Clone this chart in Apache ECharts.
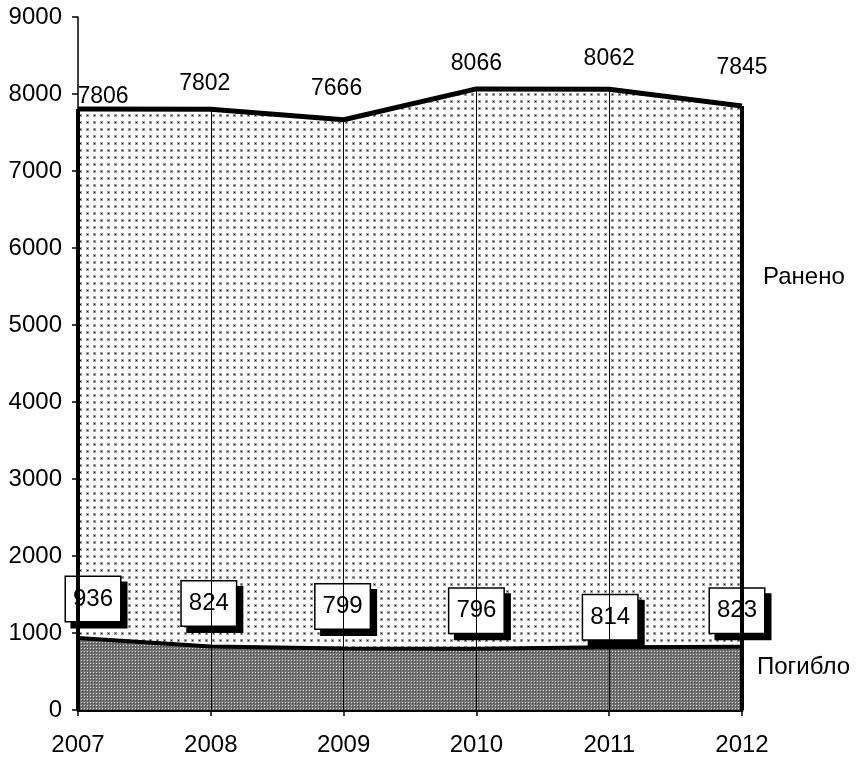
<!DOCTYPE html>
<html>
<head>
<meta charset="utf-8">
<script src="https://cdn.jsdelivr.net/npm/echarts@6/dist/echarts.min.js"></script>
<style>
html,body{margin:0;padding:0;background:#fff;}
#chart{width:858px;height:762px;}
</style>
</head>
<body>
<div id="chart"></div>
<script>
// ---- data ----
var years = ['2007', '2008', '2009', '2010', '2011', '2012'];
var seriesNames = ['Ранено', 'Погибло'];
var ranenoValues = [7806, 7802, 7666, 8066, 8062, 7845];
var pogibloValues = [936, 824, 799, 796, 814, 823];
var yTicks = [0, 1000, 2000, 3000, 4000, 5000, 6000, 7000, 8000, 9000];

// ---- patterns ----
function makePattern(w, h, draw) {
  var c = document.createElement('canvas');
  c.width = w; c.height = h;
  var ctx = c.getContext('2d');
  draw(ctx);
  return { image: c, repeat: 'repeat' };
}
var dotPattern = makePattern(7, 7, function (ctx) {
  ctx.fillStyle = '#ffffff'; ctx.fillRect(0, 0, 7, 7);
  ctx.fillStyle = '#a0a0a0'; ctx.fillRect(2, 2, 3, 3);
  ctx.fillStyle = '#202020'; ctx.fillRect(3, 3, 1, 1);
});
var densePattern = makePattern(3, 3, function (ctx) {
  ctx.fillStyle = '#727272'; ctx.fillRect(0, 0, 3, 3);
  ctx.fillStyle = '#dcdcdc'; ctx.fillRect(0, 0, 1, 1);
  ctx.fillStyle = '#4a4a4a'; ctx.fillRect(1, 1, 1, 1);
});

var FONT = 'Liberation Sans, Arial, sans-serif';

// per-label nudges (style only)
var upperOffsets = [[25, 5], [-6, -8], [-7, -14], [0, -8], [0, -13], [0, -21]];
var lowerOffsets = [[15, -11], [-2, -15], [-1, -14], [0, -10], [1, -2], [-5, -8]];

var upperData = ranenoValues.map(function (v, i) {
  return { value: v, label: { offset: upperOffsets[i] } };
});
var lowerData = pogibloValues.map(function (v, i) {
  return { value: v, label: { offset: lowerOffsets[i] } };
});

var dropLines = years.map(function (y, i) {
  var edge = (i === 0 || i === years.length - 1);
  return [
    { coord: [y, 0], lineStyle: { width: edge ? 4 : 1, color: '#000', type: 'solid' } },
    { coord: [y, ranenoValues[i]] }
  ];
});

var chart = echarts.init(document.getElementById('chart'));
chart.setOption({
  animation: false,
  backgroundColor: '#fff',
  grid: { left: 78, right: 116, top: 17, bottom: 52, containLabel: false },
  xAxis: {
    type: 'category',
    data: years,
    boundaryGap: false,
    axisLine: { lineStyle: { color: '#000', width: 3 } },
    axisTick: { show: true, length: 6, lineStyle: { color: '#000', width: 1.5 } },
    axisLabel: { color: '#000', fontSize: 24, fontFamily: FONT, margin: 23 },
    splitLine: { show: false }
  },
  yAxis: {
    type: 'value',
    min: yTicks[0],
    max: yTicks[yTicks.length - 1],
    interval: yTicks[1] - yTicks[0],
    axisLine: { show: true, lineStyle: { color: '#000', width: 1.5 } },
    axisTick: { show: true, length: 6, lineStyle: { color: '#000', width: 1.5 } },
    axisLabel: { color: '#000', fontSize: 24, fontFamily: FONT, margin: 16,
      formatter: function (v) { return String(v); } },
    splitLine: { show: false }
  },
  series: [
    {
      name: seriesNames[0],
      type: 'line',
      data: upperData,
      symbol: 'circle',
      symbolSize: 2,
      showSymbol: true,
      itemStyle: { color: 'transparent' },
      z: 2,
      lineStyle: { color: '#000', width: 5 },
      areaStyle: { color: dotPattern, opacity: 1 },
      label: {
        show: true, position: 'top', distance: 5,
        color: '#000', fontSize: 23, fontFamily: FONT
      }
    },
    {
      name: seriesNames[1],
      type: 'line',
      data: lowerData,
      symbol: 'circle',
      symbolSize: 2,
      showSymbol: true,
      itemStyle: { color: 'transparent' },
      z: 3,
      lineStyle: { color: '#000', width: 4 },
      areaStyle: { color: densePattern, opacity: 1 },
      label: {
        show: true, position: 'top', distance: 5,
        color: '#000', fontSize: 24, fontFamily: FONT,
        backgroundColor: '#fff', borderColor: '#000', borderWidth: 1.5,
        padding: [10, 7, 10, 7],
        shadowColor: '#000', shadowBlur: 0, shadowOffsetX: 6, shadowOffsetY: 6
      },
      markLine: {
        silent: true,
        symbol: ['none', 'none'],
        label: { show: false },
        z: 4,
        data: dropLines
      }
    }
  ],
  graphic: [
    { type: 'text', left: 763, top: 265, style: { text: seriesNames[0], fill: '#000', font: '24px ' + FONT } },
    { type: 'text', left: 757, top: 655, style: { text: seriesNames[1], fill: '#000', font: '24px ' + FONT } }
  ]
});
</script>
</body>
</html>
